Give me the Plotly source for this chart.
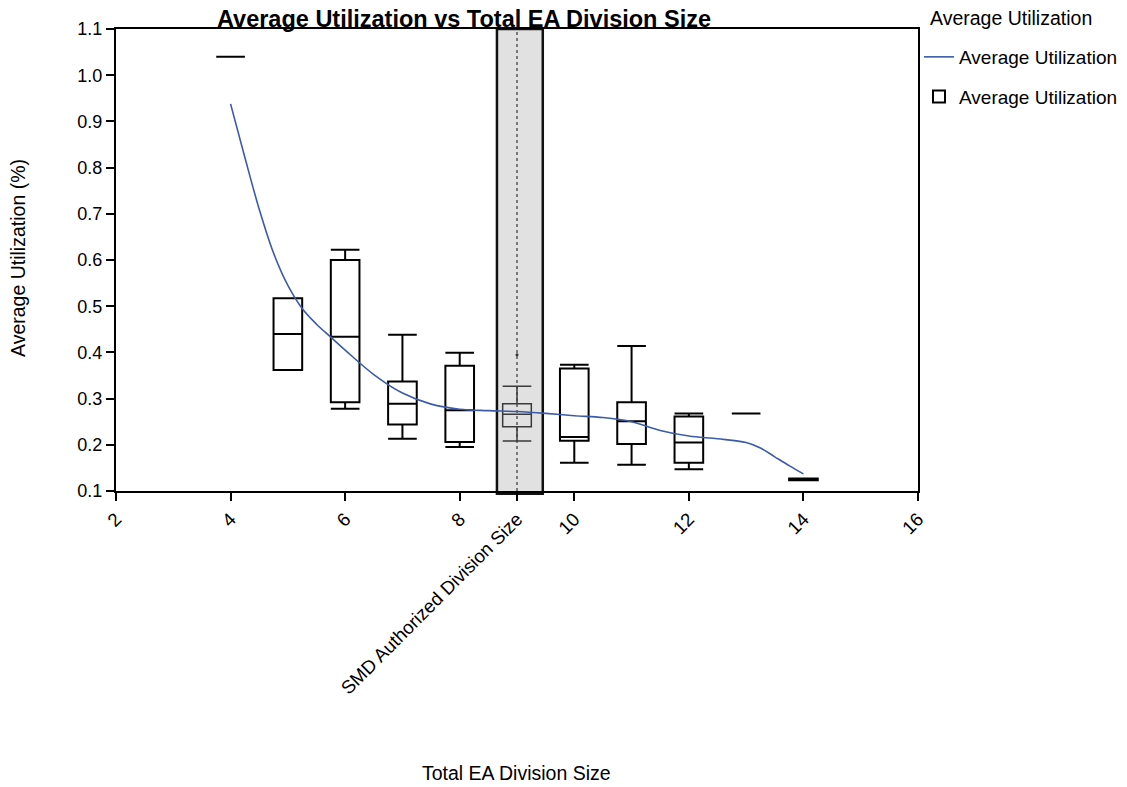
import plotly.graph_objects as go

# ---- data ----
box_x = [4, 5, 6, 7, 8, 10, 11, 12, 13, 14]
box_lower = [1.04, 0.362, 0.278, 0.213, 0.195, 0.161, 0.157, 0.147, 0.268, 0.123]
box_q1 = [1.04, 0.362, 0.292, 0.244, 0.206, 0.209, 0.202, 0.161, 0.268, 0.123]
box_median = [1.04, 0.440, 0.434, 0.289, 0.275, 0.217, 0.251, 0.205, 0.268, 0.125]
box_q3 = [1.04, 0.517, 0.600, 0.337, 0.371, 0.365, 0.292, 0.261, 0.268, 0.127]
box_upper = [1.04, 0.517, 0.622, 0.438, 0.399, 0.373, 0.414, 0.268, 0.268, 0.127]

smd_x = [9]
smd_lower = [0.208]
smd_q1 = [0.239]
smd_median = [0.266]
smd_q3 = [0.289]
smd_upper = [0.327]
smd_outlier = [0.395]

curve_x = [4.0, 4.25, 4.5, 4.75, 5.0, 5.25, 5.5, 5.75, 6.0, 6.5, 7.0, 7.5, 8.0, 8.5,
           9.0, 9.5, 10.0, 10.5, 11.0, 11.5, 12.0, 12.5, 13.0, 13.25, 13.5, 13.75, 14.0]
curve_y = [0.938, 0.822, 0.710, 0.615, 0.545, 0.495, 0.461, 0.433, 0.405, 0.352, 0.312,
           0.288, 0.277, 0.274, 0.272, 0.268, 0.263, 0.259, 0.250, 0.231, 0.219, 0.213,
           0.205, 0.193, 0.174, 0.155, 0.137]

x_tickvals = [2, 4, 6, 8, 9, 10, 12, 14, 16]
x_ticktext = ["2", "4", "6", "8", "SMD Authorized Division Size", "10", "12", "14", "16"]
y_tickvals = [0.1, 0.2, 0.3, 0.4, 0.5, 0.6, 0.7, 0.8, 0.9, 1.0, 1.1]
y_ticktext = ["0.1", "0.2", "0.3", "0.4", "0.5", "0.6", "0.7", "0.8", "0.9", "1.0", "1.1"]

smd_band = [8.65, 9.45]

FONT = "Liberation Sans, Arial, sans-serif"

# the page body adds an 8px offset; positions below are figure pixels
L, R, T, B = 108, 217, 21, 304
W, H = 1127, 787
PW = W - L - R
PH = H - T - B


def px_x(page_x):
    return (page_x - 8 - L) / PW


def px_y(page_y):
    return 1 - (page_y - 8 - T) / PH


fig = go.Figure()

fig.add_trace(go.Box(
    x=box_x, q1=box_q1, median=box_median, q3=box_q3,
    lowerfence=box_lower, upperfence=box_upper,
    name="Average Utilization", legendgroup="box", legendrank=2,
    width=0.5, whiskerwidth=1,
    line=dict(color="black", width=2), fillcolor="rgba(255,255,255,0)",
    boxpoints=False, hoverinfo="skip",
))

fig.add_trace(go.Box(
    x=smd_x, q1=smd_q1, median=smd_median, q3=smd_q3,
    lowerfence=smd_lower, upperfence=smd_upper,
    name="Average Utilization", legendgroup="box", showlegend=False,
    width=0.5, whiskerwidth=1,
    line=dict(color="#3a3a3a", width=1.5), fillcolor="rgba(255,255,255,0)",
    boxpoints=False, hoverinfo="skip",
))

fig.add_trace(go.Scatter(
    x=smd_x, y=smd_outlier, mode="markers", showlegend=False,
    marker=dict(color="#333333", size=3, symbol="circle"),
))

fig.add_trace(go.Scatter(
    x=curve_x, y=curve_y, mode="lines", name="Average Utilization",
    legendgroup="line", legendrank=1,
    line=dict(color="#3B5BA9", width=1.6, shape="spline", smoothing=1.0),
))

# SMD authorized band
fig.add_shape(type="rect", xref="x", yref="paper",
              x0=smd_band[0], x1=smd_band[1], y0=-0.006, y1=1.0,
              fillcolor="rgba(215,215,215,0.75)",
              line=dict(color="#111111", width=2.5), layer="below")
fig.add_shape(type="line", xref="x", yref="paper",
              x0=9, x1=9, y0=0, y1=1,
              line=dict(color="#555555", width=1.5, dash="dot"), layer="below")

# axis titles and legend title as annotations
fig.add_annotation(text="Total EA Division Size", xref="paper", yref="paper",
                   x=px_x(516), y=px_y(773),
                   xanchor="center", yanchor="middle", showarrow=False,
                   font=dict(size=19.5))
fig.add_annotation(text="Average Utilization (%)", xref="paper", yref="paper",
                   x=px_x(18), y=px_y(258), textangle=-90,
                   xanchor="center", yanchor="middle", showarrow=False,
                   font=dict(size=19.5))
fig.add_annotation(text="Average Utilization", xref="paper", yref="paper",
                   x=px_x(928), y=px_y(18),
                   xanchor="left", yanchor="middle", showarrow=False,
                   font=dict(size=19.5))

fig.update_layout(
    width=W, height=H,
    margin=dict(l=L, r=R, t=T, b=B, autoexpand=False),
    plot_bgcolor="white", paper_bgcolor="white",
    font=dict(family=FONT, size=16, color="black"),
    title=dict(text="<b>Average Utilization vs Total EA Division Size</b>",
               x=(464 - 8) / W, xanchor="center", xref="container",
               y=1 - (18.5 - 8) / H, yanchor="middle", yref="container",
               font=dict(size=23.5, family=FONT, color="black")),
    legend=dict(x=px_x(919), xanchor="left", y=px_y(38), yanchor="top",
                font=dict(size=19), tracegroupgap=12, itemwidth=30,
                bgcolor="rgba(0,0,0,0)"),
    showlegend=True,
)

fig.update_xaxes(
    range=[2, 16], tickvals=x_tickvals, ticktext=x_ticktext, tickangle=-45,
    ticks="outside", ticklen=8, tickwidth=1.5, tickcolor="black",
    showline=True, linecolor="black", linewidth=2, mirror=True,
    showgrid=False, zeroline=False, automargin=False,
    tickfont=dict(size=18.7),
)
fig.update_yaxes(
    range=[0.1, 1.1], tickvals=y_tickvals, ticktext=y_ticktext,
    ticks="outside", ticklen=8, tickwidth=1.5, tickcolor="black",
    showline=True, linecolor="black", linewidth=2, mirror=True,
    showgrid=False, zeroline=False, automargin=False,
    tickfont=dict(size=18),
)

fig.write_html("out.html")
